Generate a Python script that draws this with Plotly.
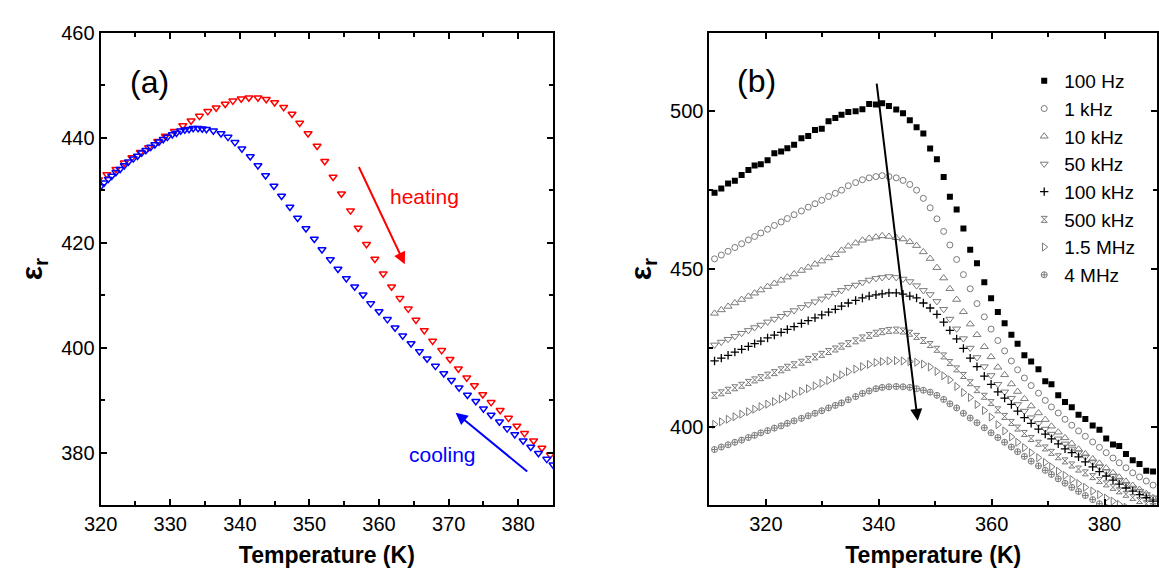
import plotly.graph_objects as go

# ---------------- panel (a): heating / cooling at one frequency ----------------
T_heat = [319.7, 320.9, 322.2, 323.4, 324.5, 325.7, 326.9, 328.2, 329.3, 330.6,
          331.8, 333.0, 334.2, 335.4, 336.6, 337.9, 339.0, 340.2, 341.3, 342.6,
          343.8, 345.0, 346.3, 347.5, 348.6, 349.8, 351.1, 352.2, 353.4, 354.6,
          355.9, 357.0, 358.2, 359.4, 360.6, 361.8, 363.0, 364.2, 365.3, 366.5,
          367.7, 369.0, 370.2, 371.4, 372.6, 373.7, 374.9, 376.1, 377.4, 378.6,
          379.8, 380.9, 382.2, 383.4, 384.6]
eps_heat = [432.0, 433.0, 434.0, 435.2, 436.2, 437.2, 438.1, 439.3, 440.3, 441.2,
            442.3, 443.2, 444.1, 445.0, 445.7, 446.4, 447.0, 447.4, 447.6, 447.6,
            447.3, 446.7, 445.8, 444.5, 442.8, 440.8, 438.4, 435.5, 432.5, 429.3,
            426.1, 422.8, 419.7, 416.9, 414.1, 411.6, 409.4, 407.4, 405.3, 403.3,
            401.3, 399.5, 397.8, 396.0, 394.3, 392.8, 391.1, 389.6, 388.1, 386.6,
            385.1, 383.7, 382.3, 380.9, 379.6]

T_cool = [320.0, 320.5, 321.1, 321.6, 322.2, 322.8, 323.4, 324.0, 324.7, 325.3,
          325.9, 326.5, 327.2, 327.8, 328.4, 329.0, 329.6, 330.3, 330.9, 331.5,
          332.1, 332.7, 333.3, 334.0, 334.6, 335.2, 336.2, 337.3, 338.3, 339.3,
          340.3, 341.5, 342.6, 343.7, 344.9, 346.0, 347.2, 348.3, 349.5, 350.7,
          351.8, 353.0, 354.1, 355.3, 356.5, 357.7, 358.8, 360.0, 361.2, 362.3,
          363.4, 364.6, 365.8, 366.9, 368.1, 369.3, 370.4, 371.5, 372.7, 373.9,
          375.0, 376.1, 377.3, 378.4, 379.5, 380.7, 381.8, 382.9, 384.1, 385.0]
eps_cool = [430.7, 431.4, 432.1, 432.7, 433.4, 434.0, 434.7, 435.4, 436.0, 436.5,
            437.1, 437.6, 438.2, 438.7, 439.2, 439.7, 440.1, 440.6, 440.9, 441.3,
            441.5, 441.6, 441.8, 441.8, 441.7, 441.6, 441.3, 440.8, 440.1, 439.1,
            437.9, 436.4, 434.7, 432.8, 430.8, 428.9, 426.8, 424.7, 422.7, 420.7,
            418.7, 416.8, 415.0, 413.2, 411.6, 410.1, 408.4, 406.9, 405.4, 403.8,
            402.3, 400.8, 399.3, 397.9, 396.5, 395.1, 393.8, 392.4, 391.0, 389.8,
            388.4, 387.2, 385.9, 384.6, 383.5, 382.3, 381.1, 379.9, 378.8, 377.7]

# ---------------- panel (b): frequency dispersion ----------------
T_b = [310.9, 312.1, 313.3, 314.5, 315.7, 316.9, 318.0, 319.1, 320.3, 321.5,
       322.7, 323.8, 325.0, 326.3, 327.5, 328.7, 329.9, 331.1, 332.3, 333.4,
       334.6, 335.9, 337.1, 338.3, 339.5, 340.6, 341.8, 343.1, 344.3, 345.5,
       346.7, 347.9, 349.1, 350.3, 351.5, 352.6, 353.8, 355.0, 356.2, 357.4,
       358.7, 359.9, 361.1, 362.3, 363.5, 364.6, 365.8, 367.0, 368.3, 369.5,
       370.6, 371.8, 373.0, 374.2, 375.4, 376.6, 377.9, 379.1, 380.3, 381.5,
       382.6, 383.8, 385.0, 386.2, 387.4, 388.6]

eps_100Hz = [474.2, 475.5, 477.1, 478.0, 479.8, 481.4, 482.8, 483.2, 484.5, 486.7,
             487.3, 488.3, 489.4, 491.5, 492.2, 494.1, 494.5, 496.9, 497.9, 498.9,
             499.8, 500.0, 500.7, 502.3, 502.2, 502.6, 501.7, 500.6, 499.4, 497.2,
             495.0, 493.0, 488.2, 484.8, 479.2, 472.9, 468.9, 462.8, 456.1, 451.8,
             445.8, 440.7, 436.3, 432.8, 429.1, 426.3, 422.6, 420.6, 418.2, 414.4,
             413.4, 409.9, 407.8, 406.1, 403.7, 402.4, 400.3, 399.0, 396.2, 394.3,
             393.8, 391.3, 389.3, 388.1, 386.0, 385.7]

eps_1kHz = [453.2, 454.4, 455.6, 456.8, 458.0, 459.2, 460.3, 461.4, 462.6, 463.8,
            464.9, 466.0, 467.2, 468.4, 469.6, 470.7, 471.8, 473.0, 474.0, 475.0,
            476.4, 477.4, 478.3, 478.9, 479.3, 479.6, 479.3, 478.9, 478.1, 476.8,
            475.0, 472.4, 469.4, 465.9, 461.9, 457.6, 453.0, 448.2, 443.7, 439.0,
            434.8, 430.9, 427.3, 424.0, 420.8, 418.0, 415.4, 413.0, 410.6, 408.3,
            406.2, 404.3, 402.3, 400.4, 398.6, 396.9, 395.1, 393.4, 391.7, 390.0,
            388.5, 386.9, 385.3, 384.0, 382.7, 381.4]

eps_10kHz = [435.9, 437.0, 438.1, 439.2, 440.3, 441.3, 442.3, 443.3, 444.4, 445.4,
             446.4, 447.4, 448.4, 449.5, 450.5, 451.5, 452.5, 453.5, 454.5, 455.9,
             457.2, 458.2, 459.1, 459.7, 460.1, 460.5, 460.3, 459.9, 459.5, 458.6,
             457.4, 455.4, 453.3, 450.4, 447.1, 443.7, 440.3, 436.4, 432.5, 429.1,
             425.3, 422.1, 418.8, 416.4, 413.5, 411.1, 408.8, 406.5, 404.3, 402.2,
             400.1, 398.2, 396.4, 394.6, 392.8, 391.3, 389.7, 388.3, 386.8, 385.3,
             383.9, 382.6, 381.3, 380.0, 378.7, 377.4]

eps_50kHz = [425.9, 426.8, 427.7, 428.6, 429.6, 430.5, 431.4, 432.2, 433.2, 434.1,
             435.0, 435.9, 436.8, 437.8, 438.7, 439.6, 440.5, 441.4, 442.3, 443.2,
             444.2, 444.9, 445.7, 446.5, 447.0, 447.3, 447.6, 447.3, 446.8, 446.0,
             444.7, 443.2, 441.9, 439.7, 437.2, 434.1, 431.0, 427.9, 424.9, 421.9,
             419.0, 416.2, 413.4, 411.0, 409.0, 407.0, 404.9, 402.8, 401.0, 399.2,
             397.6, 396.1, 394.5, 392.9, 391.7, 390.4, 388.8, 387.2, 385.7, 384.3,
             383.0, 381.7, 380.5, 379.5, 378.4, 377.4]

eps_100kHz = [420.8, 421.7, 422.6, 423.6, 424.5, 425.4, 426.3, 427.1, 428.1, 429.0,
              429.9, 430.8, 431.7, 432.7, 433.6, 434.5, 435.4, 436.3, 437.2, 438.2,
              439.2, 440.0, 440.8, 441.4, 441.8, 442.1, 442.4, 442.4, 442.0, 441.4,
              440.8, 439.2, 437.6, 435.6, 433.1, 430.5, 427.8, 424.8, 421.7, 419.0,
              416.0, 413.4, 411.0, 409.0, 407.0, 404.9, 402.8, 401.0, 399.2, 397.6,
              396.1, 394.5, 392.9, 391.7, 390.4, 388.8, 387.2, 385.7, 384.3, 383.0,
              381.7, 380.5, 379.5, 378.4, 377.4, 376.3]

eps_500kHz = [409.9, 410.7, 411.5, 412.3, 413.1, 414.0, 414.8, 415.5, 416.3, 417.1,
              418.0, 418.8, 419.6, 420.4, 421.3, 422.1, 422.9, 423.8, 424.6, 425.5,
              426.3, 427.2, 428.1, 428.9, 429.6, 430.1, 430.5, 430.6, 430.3, 429.6,
              428.6, 427.3, 426.0, 424.5, 422.4, 420.3, 418.3, 416.2, 413.9, 411.7,
              409.6, 407.6, 405.3, 403.2, 401.3, 399.5, 397.8, 396.2, 394.7, 393.2,
              391.8, 390.4, 389.1, 387.8, 386.5, 385.3, 384.1, 382.9, 381.8, 380.7,
              379.6, 378.5, 377.5, 376.5, 375.5, 374.6]

eps_1p5MHz = [400.7, 401.5, 402.3, 403.1, 403.9, 404.7, 405.5, 406.3, 407.1, 407.9,
              408.7, 409.5, 410.3, 411.2, 412.0, 412.9, 413.7, 414.6, 415.5, 416.4,
              417.4, 418.2, 419.0, 419.7, 420.3, 420.6, 420.8, 420.9, 420.8, 420.6,
              420.4, 419.8, 418.9, 417.5, 416.1, 414.8, 412.7, 410.8, 409.2, 407.0,
              405.1, 403.0, 400.6, 398.6, 396.7, 395.0, 393.3, 391.7, 390.1, 388.6,
              387.2, 385.8, 384.5, 383.2, 381.9, 380.7, 379.5, 378.4, 377.3, 376.3,
              375.3, 374.4, 373.5, 372.6, 371.8, 371.0]

eps_4MHz = [392.7, 393.5, 394.2, 395.0, 395.7, 396.5, 397.2, 398.0, 398.7, 399.5,
            400.2, 401.0, 401.8, 402.6, 403.4, 404.2, 405.0, 405.9, 406.7, 407.5,
            408.5, 409.5, 410.5, 411.3, 412.0, 412.4, 412.6, 412.7, 412.6, 412.4,
            412.0, 411.5, 410.9, 409.9, 408.6, 407.2, 405.9, 404.2, 402.7, 401.2,
            399.6, 398.0, 396.5, 395.0, 393.5, 392.0, 390.5, 389.0, 387.5, 386.1,
            384.8, 383.4, 382.0, 380.7, 379.4, 378.1, 376.8, 375.5, 374.3, 373.1,
            372.0, 370.9, 369.8, 368.7, 367.7, 366.7]

freq_labels = ["100 Hz", "1 kHz", "10 kHz", "50 kHz", "100 kHz", "500 kHz", "1.5 MHz", "4 MHz"]
freq_series = [eps_100Hz, eps_1kHz, eps_10kHz, eps_50kHz, eps_100kHz, eps_500kHz, eps_1p5MHz, eps_4MHz]

GREY = "#7a7a7a"
freq_styles = [
    dict(symbol="square", size=6, color="black", line=dict(width=0)),
    dict(symbol="circle-open", size=6, color=GREY, line=dict(width=1)),
    dict(symbol="triangle-up-open", size=7, color=GREY, line=dict(width=1)),
    dict(symbol="triangle-down-open", size=7, color=GREY, line=dict(width=1)),
    dict(symbol="cross-thin-open", size=6, color="black", line=dict(width=1.3)),
    dict(symbol="hourglass-open", size=6, color=GREY, line=dict(width=1)),
    dict(symbol="triangle-right-open", size=7, color=GREY, line=dict(width=1)),
    dict(symbol="circle-cross-open", size=6, color=GREY, line=dict(width=1)),
]

FONT = "Liberation Sans, Arial, sans-serif"

fig = go.Figure()

fig.add_trace(go.Scatter(
    x=T_heat, y=eps_heat, mode="markers", showlegend=False,
    marker=dict(symbol="triangle-down-open", size=7, color="#ff0000", line=dict(width=1.5)),
    xaxis="x", yaxis="y"))
fig.add_trace(go.Scatter(
    x=T_cool, y=eps_cool, mode="markers", showlegend=False,
    marker=dict(symbol="triangle-down-open", size=7, color="#0000ff", line=dict(width=1.5)),
    xaxis="x", yaxis="y"))

for name, vals, style in zip(freq_labels, freq_series, freq_styles):
    fig.add_trace(go.Scatter(
        x=T_b, y=vals, mode="markers", name=name,
        marker=style, xaxis="x2", yaxis="y2"))

W, H = 1159, 572
ax_common = dict(
    showline=True, linecolor="black", linewidth=2, mirror="ticks",
    ticks="inside", ticklen=6, tickwidth=2, tickcolor="black",
    showgrid=False, zeroline=False,
    tickfont=dict(family=FONT, size=20, color="black"),
)
title_font = dict(family=FONT, size=23, color="black")
eps_font = dict(family=FONT, size=30, color="black")

fig.update_layout(
    width=W, height=H,
    margin=dict(l=0, r=0, t=0, b=0),
    paper_bgcolor="white", plot_bgcolor="white",
    font=dict(family=FONT, color="black"),
    xaxis=dict(ax_common, domain=[85 / W, 545 / W], range=[320, 385],
               tickmode="linear", tick0=320, dtick=10,
               minor=dict(ticks="inside", ticklen=4, tickwidth=2, dtick=5, tickcolor="black"),
               title=dict(text="<b>Temperature (K)</b>", font=title_font, standoff=13),
               anchor="y"),
    yaxis=dict(ax_common, domain=[1 - 504 / H, 1 - 22 / H], range=[370, 460],
               tickmode="linear", tick0=380, dtick=20,
               minor=dict(ticks="inside", ticklen=4, tickwidth=2, dtick=10, tickcolor="black"),
               title=dict(text="<b>ε<sub>r</sub></b>", font=eps_font, standoff=10),
               anchor="x"),
    xaxis2=dict(ax_common, domain=[704 / W, 1.0], range=[310, 389.3],
                tickmode="linear", tick0=320, dtick=20,
                minor=dict(ticks="inside", ticklen=4, tickwidth=2, dtick=10, tickcolor="black"),
                title=dict(text="<b>Temperature (K)</b>", font=title_font, standoff=13),
                anchor="y2"),
    yaxis2=dict(ax_common, domain=[1 - 504 / H, 1 - 22 / H], range=[375, 525],
                tickmode="linear", tick0=400, dtick=50,
                minor=dict(ticks="inside", ticklen=4, tickwidth=2, dtick=25, tickcolor="black"),
                title=dict(text="<b>ε<sub>r</sub></b>", font=eps_font, standoff=10),
                anchor="x2"),
    legend=dict(x=1024 / W, y=1 - 52 / H, xanchor="left", yanchor="top",
                bgcolor="rgba(0,0,0,0)", borderwidth=0, itemwidth=30,
                font=dict(family=FONT, size=19, color="black"),
                tracegroupgap=0),
)

# panel labels
fig.add_annotation(x=327.0, y=450.6, xref="x", yref="y", text="(a)",
                   showarrow=False, font=dict(family=FONT, size=32, color="black"))
fig.add_annotation(x=318.4, y=509.6, xref="x2", yref="y2", text="(b)",
                   showarrow=False, font=dict(family=FONT, size=32, color="black"))

# heating / cooling arrows and labels
fig.add_annotation(x=363.7, y=415.9, ax=357.0, ay=434.7, xref="x", yref="y", axref="x", ayref="y",
                   showarrow=True, arrowhead=2, arrowsize=1.2, arrowwidth=2, arrowcolor="#ff0000", text="")
fig.add_annotation(x=366.5, y=428.7, xref="x", yref="y", text="heating", showarrow=False,
                   font=dict(family=FONT, size=21, color="#ff0000"))
fig.add_annotation(x=371.0, y=387.6, ax=381.5, ay=376.2, xref="x", yref="y", axref="x", ayref="y",
                   showarrow=True, arrowhead=2, arrowsize=1.2, arrowwidth=2, arrowcolor="#0000ff", text="")
fig.add_annotation(x=369.1, y=379.7, xref="x", yref="y", text="cooling", showarrow=False,
                   font=dict(family=FONT, size=21, color="#0000ff"))

# arrow marking the shift of the permittivity maximum with frequency
fig.add_annotation(x=346.9, y=401.8, ax=339.6, ay=509.3, xref="x2", yref="y2", axref="x2", ayref="y2",
                   showarrow=True, arrowhead=2, arrowsize=1.2, arrowwidth=2, arrowcolor="black", text="")

fig.write_html("out.html")
